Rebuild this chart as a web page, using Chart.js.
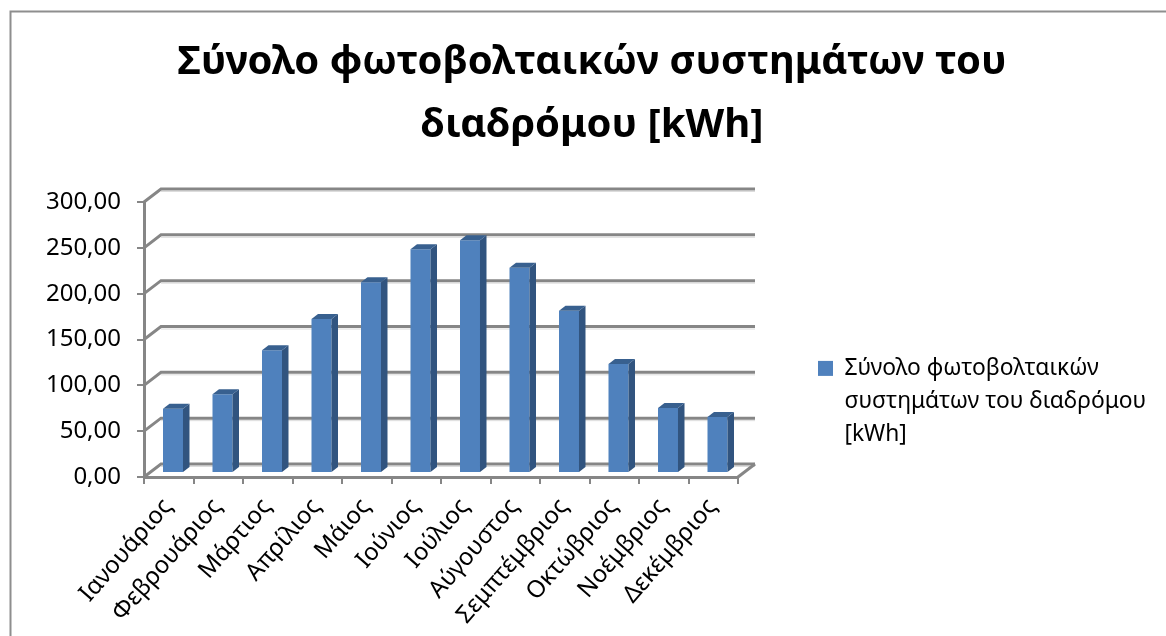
<!DOCTYPE html>
<html><head><meta charset="utf-8">
<script src="https://cdn.jsdelivr.net/npm/chart.js@4"></script>
<style>html,body{margin:0;padding:0;background:#fff}#w{position:relative;width:1166px;height:636px;overflow:hidden}canvas{display:block}</style>
</head><body><div id="w"><canvas id="c" width="1166" height="636"></canvas></div>
<script>
const categories = ['Ιανουάριος','Φεβρουάριος','Μάρτιος','Απρίλιος','Μάιος','Ιούνιος','Ιούλιος','Αύγουστος','Σεμπτέμβριος','Οκτώβριος','Νοέμβριος','Δεκέμβριος'];
const seriesValues = [70,86,134,168,208,244,254,224,177,119,71,61];
const seriesName = 'Σύνολο φωτοβολταικών συστημάτων του διαδρόμου [kWh]';
const legendLines = ['Σύνολο φωτοβολταικών','συστημάτων του διαδρόμου','[kWh]'];
const titleLines = ['Σύνολο φωτοβολταικών συστημάτων του','διαδρόμου [kWh]'];
const FONT = '"Noto Sans", "Open Sans", sans-serif';
const AX = '#868686';
const D3 = {wallX:17, wallY:-13, barX:4.25, barY:-4, sideX:6.5, sideY:-5};

const frame = {id:'frame', beforeDraw(ch){
  const c=ch.ctx; c.save(); c.strokeStyle='#8e8e8e'; c.lineWidth=2;
  c.beginPath(); c.moveTo(10.5,636); c.lineTo(10.5,11.5); c.lineTo(1166,11.5); c.stroke(); c.restore();
}};
const walls = {id:'walls', beforeDatasetsDraw(ch){
  const c=ch.ctx, y=ch.scales.y, a=ch.chartArea; c.save(); c.lineCap='butt';
  y.ticks.forEach(t=>{
    const p=y.getPixelForValue(t.value), bx=a.left+D3.wallX, by=p+D3.wallY, ex=a.right+D3.wallX;
    c.strokeStyle='#dcdcdc'; c.lineWidth=1;
    c.beginPath(); c.moveTo(bx,by+2.5); c.lineTo(ex,by+2.5); c.stroke();
    c.strokeStyle=AX; c.lineWidth=3;
    c.beginPath(); c.moveTo(a.left,p); c.lineTo(bx,by); c.lineTo(ex,by); c.stroke();
  });
  const p0=y.getPixelForValue(0);
  c.beginPath(); c.moveTo(a.right,p0); c.lineTo(a.right+D3.wallX,p0+D3.wallY); c.stroke();
  c.restore();
}};
const bars3d = {id:'bars3d',
  beforeDatasetDraw(ch){ ch.ctx.save(); ch.ctx.translate(D3.barX,D3.barY); },
  afterDatasetDraw(ch,args){
    const c=ch.ctx;
    args.meta.data.forEach(b=>{
      const {x,y,base,width}=b.getProps(['x','y','base','width'],true), l=x-width/2, r=x+width/2;
      c.fillStyle='#31547f'; c.beginPath(); c.moveTo(r,y); c.lineTo(r+D3.sideX,y+D3.sideY); c.lineTo(r+D3.sideX,base+D3.sideY); c.lineTo(r,base); c.closePath(); c.fill();
      c.fillStyle='#38608f'; c.beginPath(); c.moveTo(l,y); c.lineTo(l+D3.sideX,y+D3.sideY); c.lineTo(r+D3.sideX,y+D3.sideY); c.lineTo(r,y); c.closePath(); c.fill();
    });
    c.restore();
  }};
const place = {id:'place', afterLayout(ch){
  const t=ch.titleBlock; t.left=18; t.right=1166;
  const l=ch.legend; const h=l.bottom-l.top; l.left=808; l.right=1166; l.top=347; l.bottom=347+h;
}};

new Chart(document.getElementById('c'),{
  type:'bar',
  data:{labels:categories,datasets:[{label:seriesName,data:seriesValues,backgroundColor:'#4f81bd',borderWidth:0,barPercentage:1,categoryPercentage:0.404,clip:false}]},
  plugins:[frame,walls,bars3d,place],
  options:{
    responsive:false,animation:false,
    layout:{padding:{left:0,right:428,top:0,bottom:0}},
    plugins:{
      tooltip:{enabled:false},
      title:{display:true,text:titleLines,color:'#000',font:{family:FONT,size:40,weight:'bold',lineHeight:63/40},padding:{top:31,bottom:45}},
      legend:{display:true,position:'chartArea',align:'start',
        labels:{color:'#000',boxWidth:15,boxHeight:15,padding:10,font:{family:FONT,size:22.8,lineHeight:33/22.8},
          generateLabels(ch){return [{text:legendLines,fillStyle:'#4f81bd',strokeStyle:'#4f81bd',lineWidth:0,datasetIndex:0}];}}}
    },
    scales:{
      x:{offset:true,
        afterFit(s){s.height=636-477;},
        grid:{display:true,drawOnChartArea:false,drawTicks:true,tickLength:7,color:AX,lineWidth:2,offset:true},
        border:{display:true,color:AX,width:3},
        ticks:{color:'#000',font:{family:FONT,size:24},minRotation:49,maxRotation:49,autoSkip:false,padding:9,labelOffset:-1}},
      y:{min:0,max:300,
        afterFit(s){s.width=144;},
        grid:{display:true,drawOnChartArea:false,drawTicks:true,tickLength:7,color:AX,lineWidth:2},
        border:{display:true,color:AX,width:3},
        ticks:{color:'#000',font:{family:FONT,size:24},stepSize:50,padding:16,callback:v=>v.toFixed(2).replace('.',',')}}
    }
  }
});
</script></body></html>
